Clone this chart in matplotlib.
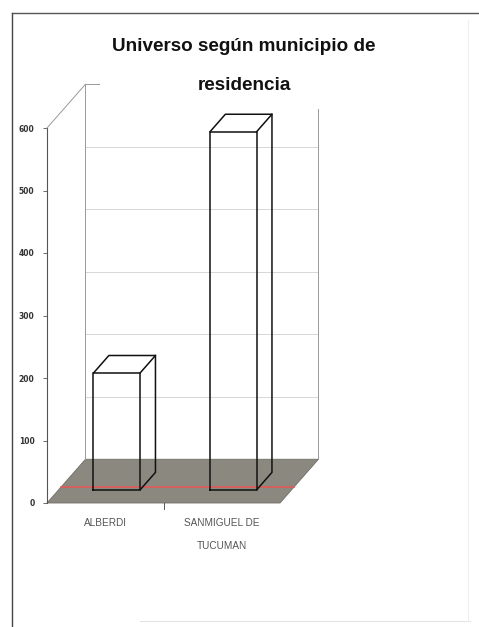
"""3D-look column chart: Universo según municipio de residencia."""

import matplotlib.pyplot as plt
from matplotlib.patches import Polygon

categories = ["ALBERDI", "SANMIGUEL DE\nTUCUMAN"]
values = [187, 573]
yticks = [0, 100, 200, 300, 400, 500, 600]
title = "Universo según municipio de\nresidencia"

NARROW = ["Liberation Sans Narrow", "Liberation Sans", "DejaVu Sans"]

# depth of the floor / walls in data units, and where the bars sit in depth
DX, DY = 0.33, 70.0
F_FRONT, F_BACK, F_RED = 0.30, 0.70, 0.36
BAR_W = 0.40


def off(x, y, f):
    return x + DX * f, y + DY * f


def main() -> None:
    fig = plt.figure(figsize=(4.79, 6.27), dpi=100)
    W, H = 479, 627
    ax = fig.add_axes([47 / W, 1 - 503 / H, (280 - 47) / W, (503 - 128) / H])
    ax.set_xlim(0, 2)
    ax.set_ylim(0, 600)
    for s in ax.spines.values():
        s.set_visible(False)
    ax.patch.set_visible(False)
    ax.set_xticks([])
    ax.set_yticks(yticks)
    ax.set_yticklabels([str(v) for v in yticks], fontsize=5.5, fontweight="bold",
                       color="#333333")
    ax.tick_params(axis="y", length=3, width=0.6, pad=6, color="#555555")

    ymax = yticks[-1]
    xr = len(categories)
    kw = dict(clip_on=False)

    # floor
    floor = Polygon([(0, 0), (xr, 0), off(xr, 0, 1), off(0, 0, 1)],
                    closed=True, facecolor="#8b897f", edgecolor="#6e6d66", lw=0.6, **kw)
    ax.add_patch(floor)
    # red line across the floor
    xa, ya = off(0, 0, F_RED)
    xb, yb = off(xr, 0, F_RED)
    ax.plot([xa, xb], [ya, yb], color="#e05a55", lw=1.2, zorder=3, **kw)

    # walls
    wall = "#9a9a9a"
    ax.plot([0, 0], [0, ymax], color="#555555", lw=0.8, **kw)
    bx0, by0 = off(0, 0, 1)
    bx1, _ = off(xr, 0, 1)
    ax.plot([0, bx0], [ymax, by0 + ymax], color=wall, lw=0.7, **kw)
    ax.plot([bx0, bx0], [by0, by0 + ymax], color=wall, lw=0.7, **kw)
    ax.plot([bx1, bx1], [by0, by0 + ymax - 40], color=wall, lw=0.7, **kw)
    ax.plot([bx0, bx0 + 0.12], [by0 + ymax, by0 + ymax], color=wall, lw=0.7, **kw)
    # gridlines on back wall
    for v in yticks[1:-1]:
        ax.plot([bx0, bx1], [by0 + v, by0 + v], color="#d0d0d0", lw=0.6, zorder=1, **kw)

    # category divider tick below floor
    for i in range(1, xr):
        ax.plot([i, i], [0, -9], color="#555555", lw=0.7, **kw)

    # bars (wireframe boxes)
    for i, v in enumerate(values):
        x0 = i + 0.5 - BAR_W / 2
        x1 = x0 + BAR_W
        fl, fb = off(x0, 0, F_FRONT), off(x1, 0, F_FRONT)
        ft_l, ft_r = off(x0, v, F_FRONT), off(x1, v, F_FRONT)
        bt_l, bt_r = off(x0, v, F_BACK), off(x1, v, F_BACK)
        bb_r = off(x1, 0, F_BACK)
        edges = [
            [fl, fb, ft_r, ft_l, fl],          # front face
            [ft_l, bt_l, bt_r, ft_r],          # top face
            [fb, bb_r, bt_r],                  # right face
        ]
        for e in edges:
            xs, ys = zip(*e)
            ax.plot(xs, ys, color="#111111", lw=1.1, zorder=4,
                    solid_joinstyle="round", **kw)

    # category labels
    for i, c in enumerate(categories):
        ax.text(i + 0.5, -24, c, ha="center", va="top", fontsize=7.2,
                family=NARROW, color="#555555", linespacing=2.6)

    fig.text(244 / W, 1 - 66 / H, title, ha="center", va="center", fontsize=13.6,
             fontweight="bold", family=NARROW, color="#111111", linespacing=2.75)

    # outer frame
    fig.add_artist(plt.Line2D([12 / W, 12 / W], [0, 1 - 13 / H], color="#444444", lw=1.0))
    fig.add_artist(plt.Line2D([12 / W, 1], [1 - 13 / H, 1 - 13 / H], color="#555555", lw=1.0))
    fig.add_artist(plt.Line2D([140 / W, 470 / W], [1 - 621 / H, 1 - 621 / H],
                              color="#e4e4e4", lw=0.8))
    fig.add_artist(plt.Line2D([468 / W, 468 / W], [1 - 20 / H, 1 - 621 / H],
                              color="#eeeeee", lw=0.8))

    fig.savefig("out.png", dpi=100)


if __name__ == "__main__":
    main()
